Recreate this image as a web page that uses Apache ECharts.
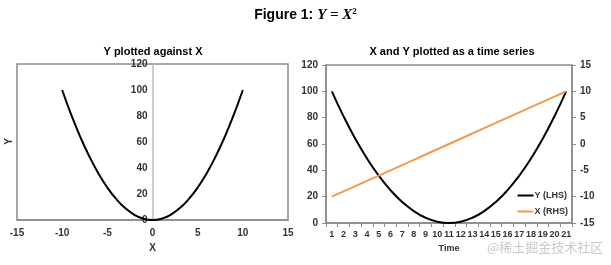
<!DOCTYPE html>
<html><head><meta charset="utf-8">
<script src="https://cdn.jsdelivr.net/npm/echarts@6/dist/echarts.min.js"></script>
<style>html,body{margin:0;padding:0;background:#fff}#c{width:611px;height:265px}</style>
</head><body><div id="c"></div>
<script>
var xValues = [-10,-9,-8,-7,-6,-5,-4,-3,-2,-1,0,1,2,3,4,5,6,7,8,9,10];
var yValues = [100,81,64,49,36,25,16,9,4,1,0,1,4,9,16,25,36,49,64,81,100];
var timeCats = ['1','2','3','4','5','6','7','8','9','10','11','12','13','14','15','16','17','18','19','20','21'];

var F = 'Liberation Sans, Arial, sans-serif';
var lbl = {color:'#333', fontFamily:F, fontWeight:'bold', fontSize:10};
var gray = '#8c8c8c';
var chart = echarts.init(document.getElementById('c'));
chart.setOption({
  animation:false,
  title:[
    {text:'{b|Figure 1: }{i|Y = X}{s|2}', left:'center', top:2, textStyle:{rich:{
      b:{fontFamily:F, fontWeight:'bold', fontSize:14, color:'#000'},
      i:{fontFamily:'Liberation Serif, serif', fontStyle:'italic', fontSize:15, color:'#000'},
      s:{fontFamily:'Liberation Serif, serif', fontSize:9, color:'#000', verticalAlign:'top', padding:[0,0,8,0]}}}},
    {text:'Y plotted against X', left:148, textAlign:'center', top:41, textStyle:{fontFamily:F, fontWeight:'bold', fontSize:11, color:'#000'}},
    {text:'X and Y plotted as a time series', left:447, textAlign:'center', top:41, textStyle:{fontFamily:F, fontWeight:'bold', fontSize:11, color:'#000'}}
  ],
  grid:[
    {left:17, right:323, top:64, bottom:45, show:true, borderColor:gray, borderWidth:1.5, backgroundColor:'transparent'},
    {left:326, right:39, top:65, bottom:42, show:true, borderColor:gray, borderWidth:1.5, backgroundColor:'transparent'}
  ],
  xAxis:[
    {type:'value', gridIndex:0, min:-15, max:15, interval:5, splitLine:{show:false},
     axisLine:{lineStyle:{color:gray, width:1.5}}, axisTick:{show:false},
     axisLabel:Object.assign({margin:8}, lbl),
     name:'X', nameLocation:'middle', nameGap:17, nameTextStyle:Object.assign({}, lbl)},
    {type:'category', gridIndex:1, data:timeCats, boundaryGap:true,
     axisLine:{lineStyle:{color:gray, width:1.5}}, axisTick:{show:true, length:4, lineStyle:{color:gray}},
     axisLabel:Object.assign({}, lbl, {fontSize:9, margin:7, interval:0}),
     name:'Time', nameLocation:'middle', nameGap:20, nameTextStyle:Object.assign({}, lbl, {fontSize:9})}
  ],
  yAxis:[
    {type:'value', gridIndex:0, min:0, max:120, interval:20, splitLine:{show:false}, position:'left', offset:-135.5,
     axisLine:{show:true, onZero:false, lineStyle:{color:'#bdbdbd', width:1.5}}, axisTick:{show:false},
     axisLabel:Object.assign({margin:5}, lbl)},
    {type:'value', gridIndex:1, min:0, max:120, interval:20, position:'left', splitLine:{show:false},
     axisLine:{show:true, lineStyle:{color:gray, width:1.5}}, axisTick:{show:true, length:4, lineStyle:{color:gray}},
     axisLabel:Object.assign({margin:8}, lbl)},
    {type:'value', gridIndex:1, min:-15, max:15, interval:5, position:'right', splitLine:{show:false},
     axisLine:{show:true, lineStyle:{color:gray, width:1.5}}, axisTick:{show:true, length:4, lineStyle:{color:gray}},
     axisLabel:Object.assign({margin:8}, lbl)}
  ],
  legend:{orient:'vertical', right:38, bottom:44, itemGap:7, itemWidth:16, itemHeight:2, icon:'rect',
    textStyle:Object.assign({}, lbl, {fontSize:9, padding:[0,0,0,-4]}),
    data:['Y (LHS)','X (RHS)']},
  series:[
    {type:'line', xAxisIndex:0, yAxisIndex:0, data:xValues.map(function(x,i){return [x,yValues[i]];}),
     smooth:true, showSymbol:false, lineStyle:{color:'#000', width:2}, itemStyle:{color:'#000'}},
    {name:'Y (LHS)', type:'line', xAxisIndex:1, yAxisIndex:1, data:yValues, smooth:true, showSymbol:false,
     lineStyle:{color:'#000', width:2}, itemStyle:{color:'#000'}},
    {name:'X (RHS)', type:'line', xAxisIndex:1, yAxisIndex:2, data:xValues, showSymbol:false,
     lineStyle:{color:'#F39A4C', width:2}, itemStyle:{color:'#F39A4C'}}
  ],
  graphic:[
    {type:'text', left:4, top:138, rotation:Math.PI/2, style:{text:'Y', font:'bold 10px '+F, fill:'#333'}},
    {type:'text', left:487, top:241, style:{text:'@稀土掘金技术社区', font:'13px "Noto Sans CJK SC"', fill:'#c8c8c8'}}
  ]
});
</script></body></html>
